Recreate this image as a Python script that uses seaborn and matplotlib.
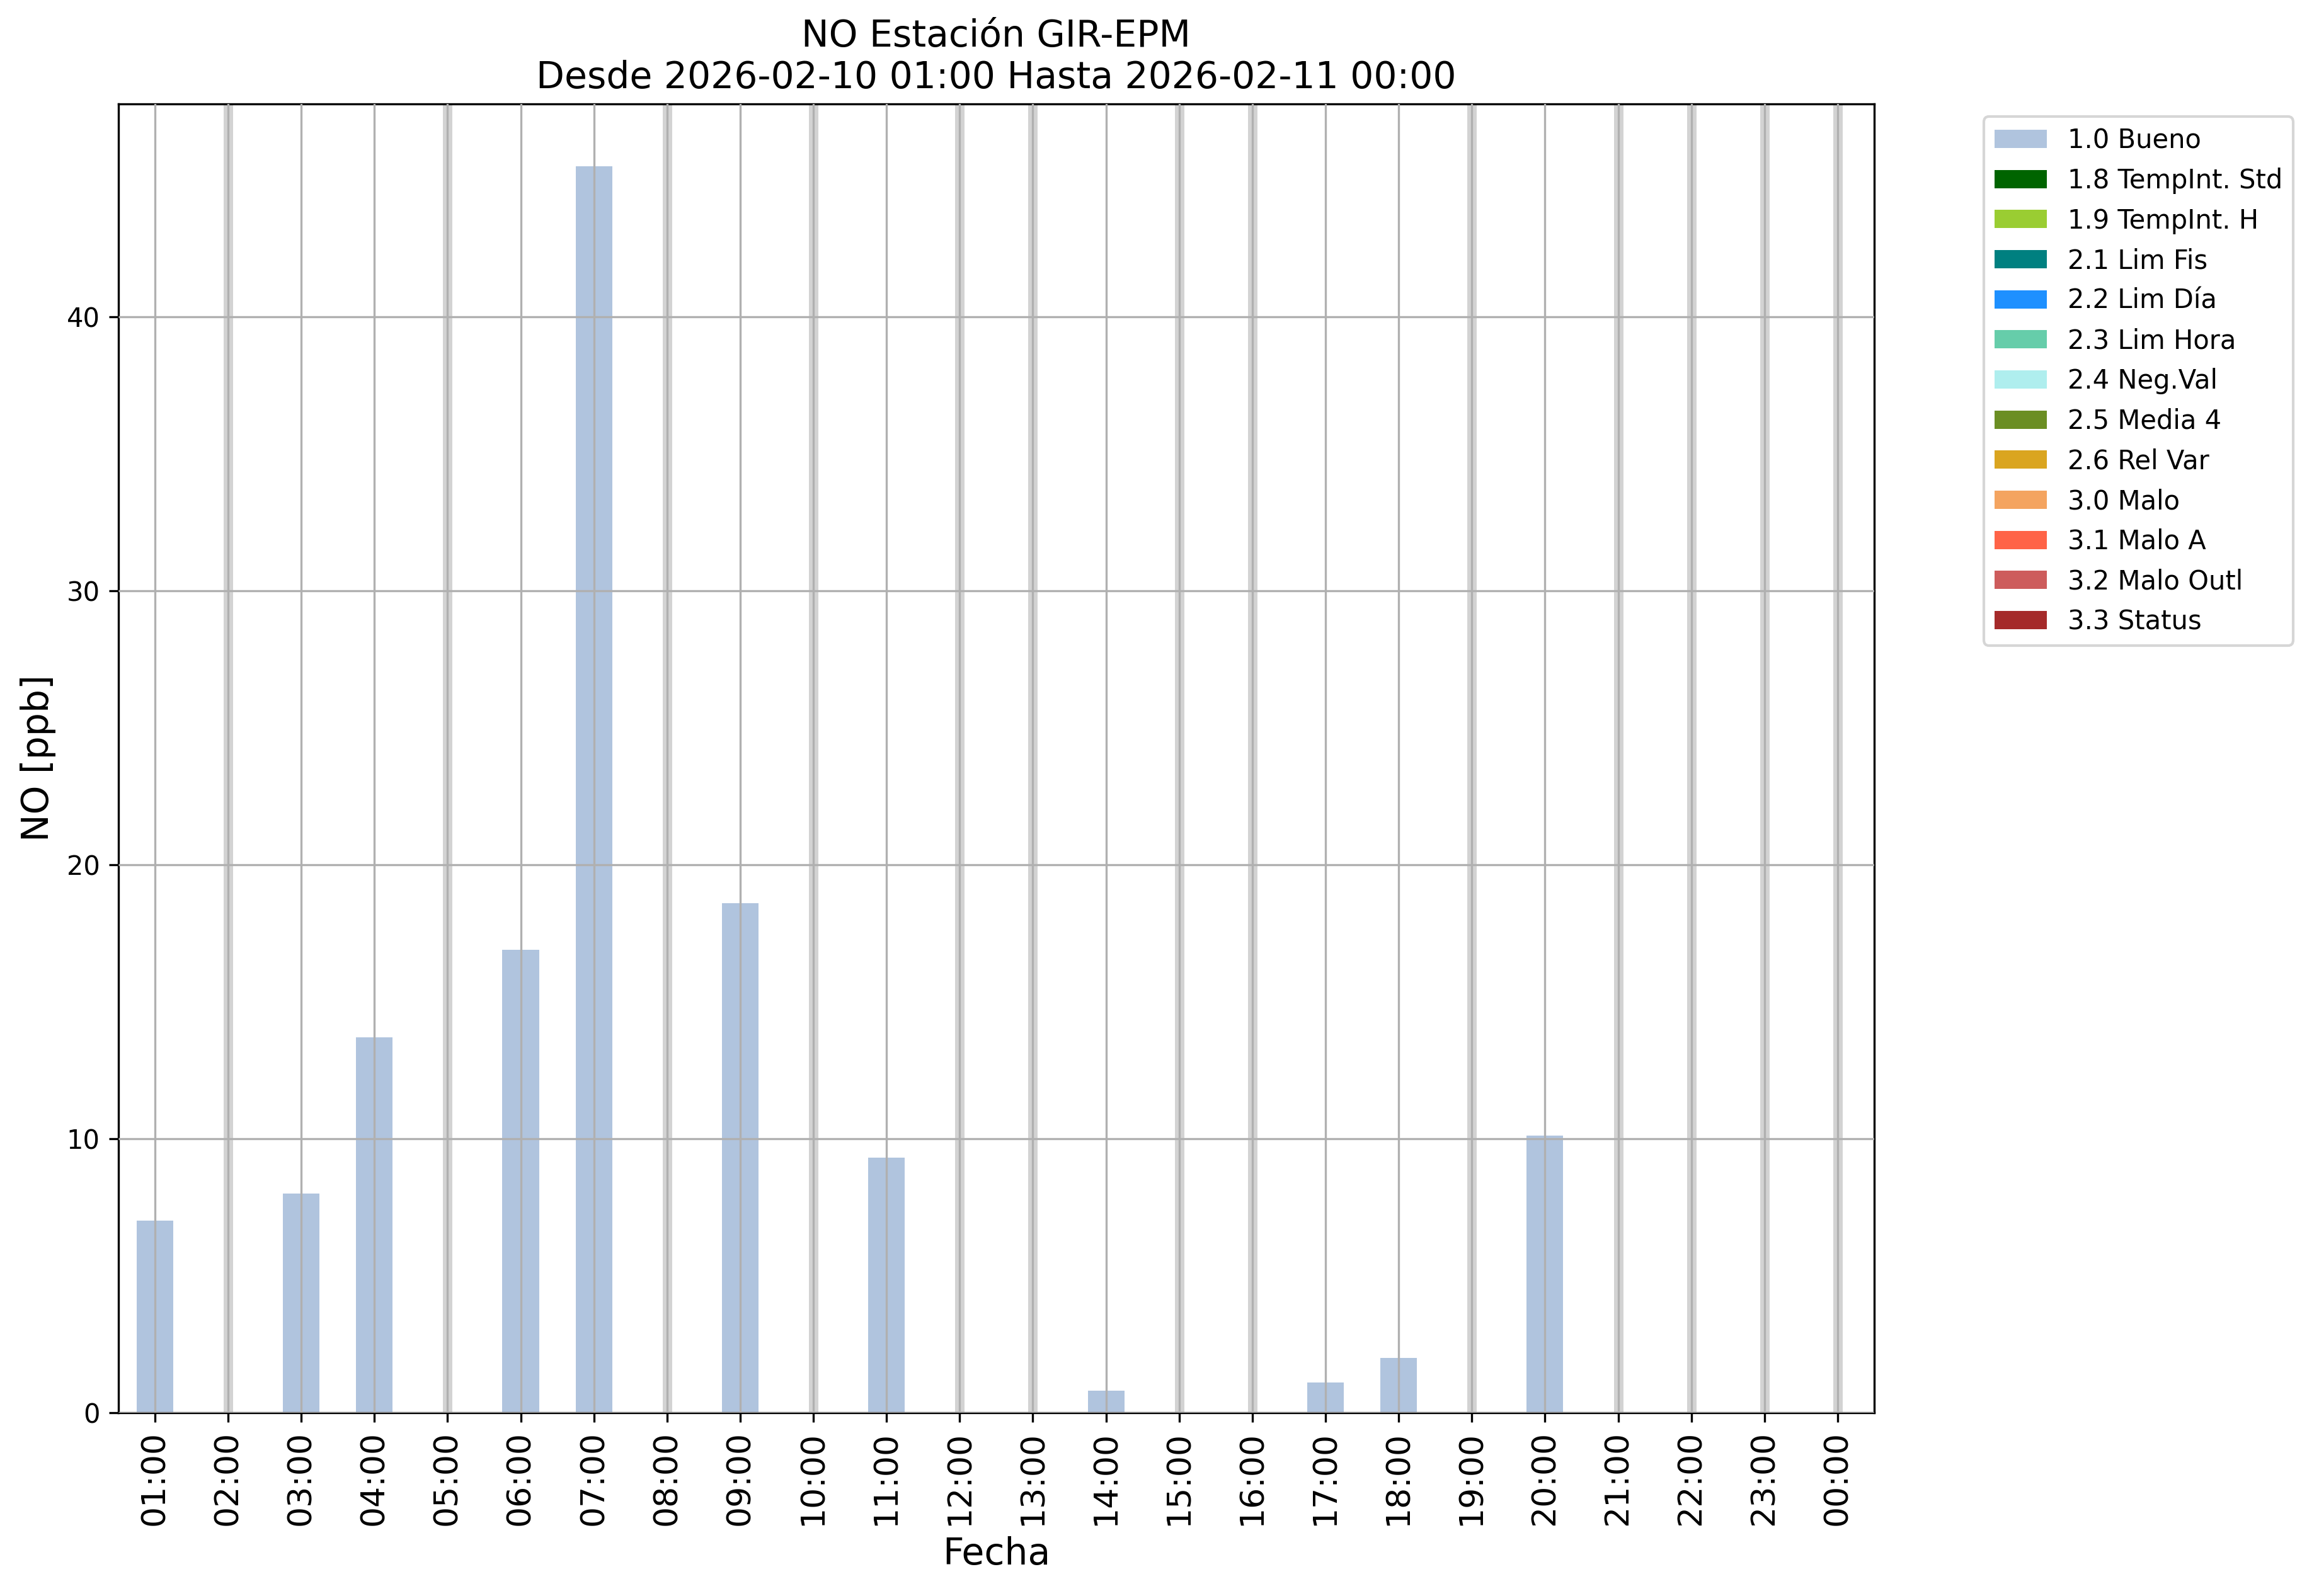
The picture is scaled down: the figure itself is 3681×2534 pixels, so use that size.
import numpy as np
import matplotlib
matplotlib.use("Agg")
import matplotlib.pyplot as plt
import seaborn as sns
from matplotlib.patches import Patch

# ── Datos ────────────────────────────────────────────
HORAS = ["01:00", "02:00", "03:00", "04:00", "05:00", "06:00", "07:00", "08:00",
         "09:00", "10:00", "11:00", "12:00", "13:00", "14:00", "15:00", "16:00",
         "17:00", "18:00", "19:00", "20:00", "21:00", "22:00", "23:00", "00:00"]
NO_PPB = [7.0, np.nan, 8.0, 13.7, np.nan, 16.9, 45.5, np.nan,
          18.6, np.nan, 9.3, np.nan, np.nan, 0.8, np.nan, np.nan,
          1.1, 2.0, np.nan, 10.1, np.nan, np.nan, np.nan, np.nan]

FLAGS = ["1.0 Bueno", "1.8 TempInt. Std", "1.9 TempInt. H", "2.1 Lim Fis",
         "2.2 Lim Día", "2.3 Lim Hora", "2.4 Neg.Val", "2.5 Media 4",
         "2.6 Rel Var", "3.0 Malo", "3.1 Malo A", "3.2 Malo Outl", "3.3 Status"]
FLAG_COLORS = ["lightsteelblue", "darkgreen", "yellowgreen", "teal",
               "dodgerblue", "mediumaquamarine", "paleturquoise", "olivedrab",
               "goldenrod", "sandybrown", "tomato", "indianred", "brown"]

# ── Figura ───────────────────────────────────────────
fig = plt.figure(figsize=(12.273, 8.447), dpi=300)
ax = fig.add_axes([0.051, 0.115, 0.757, 0.820])

sns.barplot(x=HORAS, y=NO_PPB, order=HORAS, color=FLAG_COLORS[0],
            saturation=1, width=0.5, ax=ax, zorder=1)

# horas sin dato
for i, v in enumerate(NO_PPB):
    if np.isnan(v):
        ax.axvline(i, color="lightgray", lw=3.6, zorder=1.5)

ax.set_xlim(-0.5, len(HORAS) - 0.5)
ax.set_ylim(0, np.nanmax(NO_PPB) * 1.05)
ax.set_axisbelow(False)
ax.grid(True, color="#b0b0b0", lw=0.8)
for s in ax.spines.values():
    s.set_visible(True)
    s.set_color("black")

ax.set_xticks(range(len(HORAS)))
ax.set_xticklabels(HORAS, rotation=90, fontsize=12.5)
ax.tick_params(axis="y", labelsize=10)
ax.set_xlabel("Fecha", fontsize=14)
ax.set_ylabel("NO [ppb]", fontsize=14)
ax.set_title("NO Estación GIR-EPM\nDesde 2026-02-10 01:00 Hasta 2026-02-11 00:00",
             fontsize=14)

handles = [Patch(facecolor=c, label=l) for l, c in zip(FLAGS, FLAG_COLORS)]
ax.legend(handles=handles, bbox_to_anchor=(1.055, 1), loc="upper left",
          fontsize=10, labelspacing=0.52)

fig.savefig("out.png", dpi=300)
